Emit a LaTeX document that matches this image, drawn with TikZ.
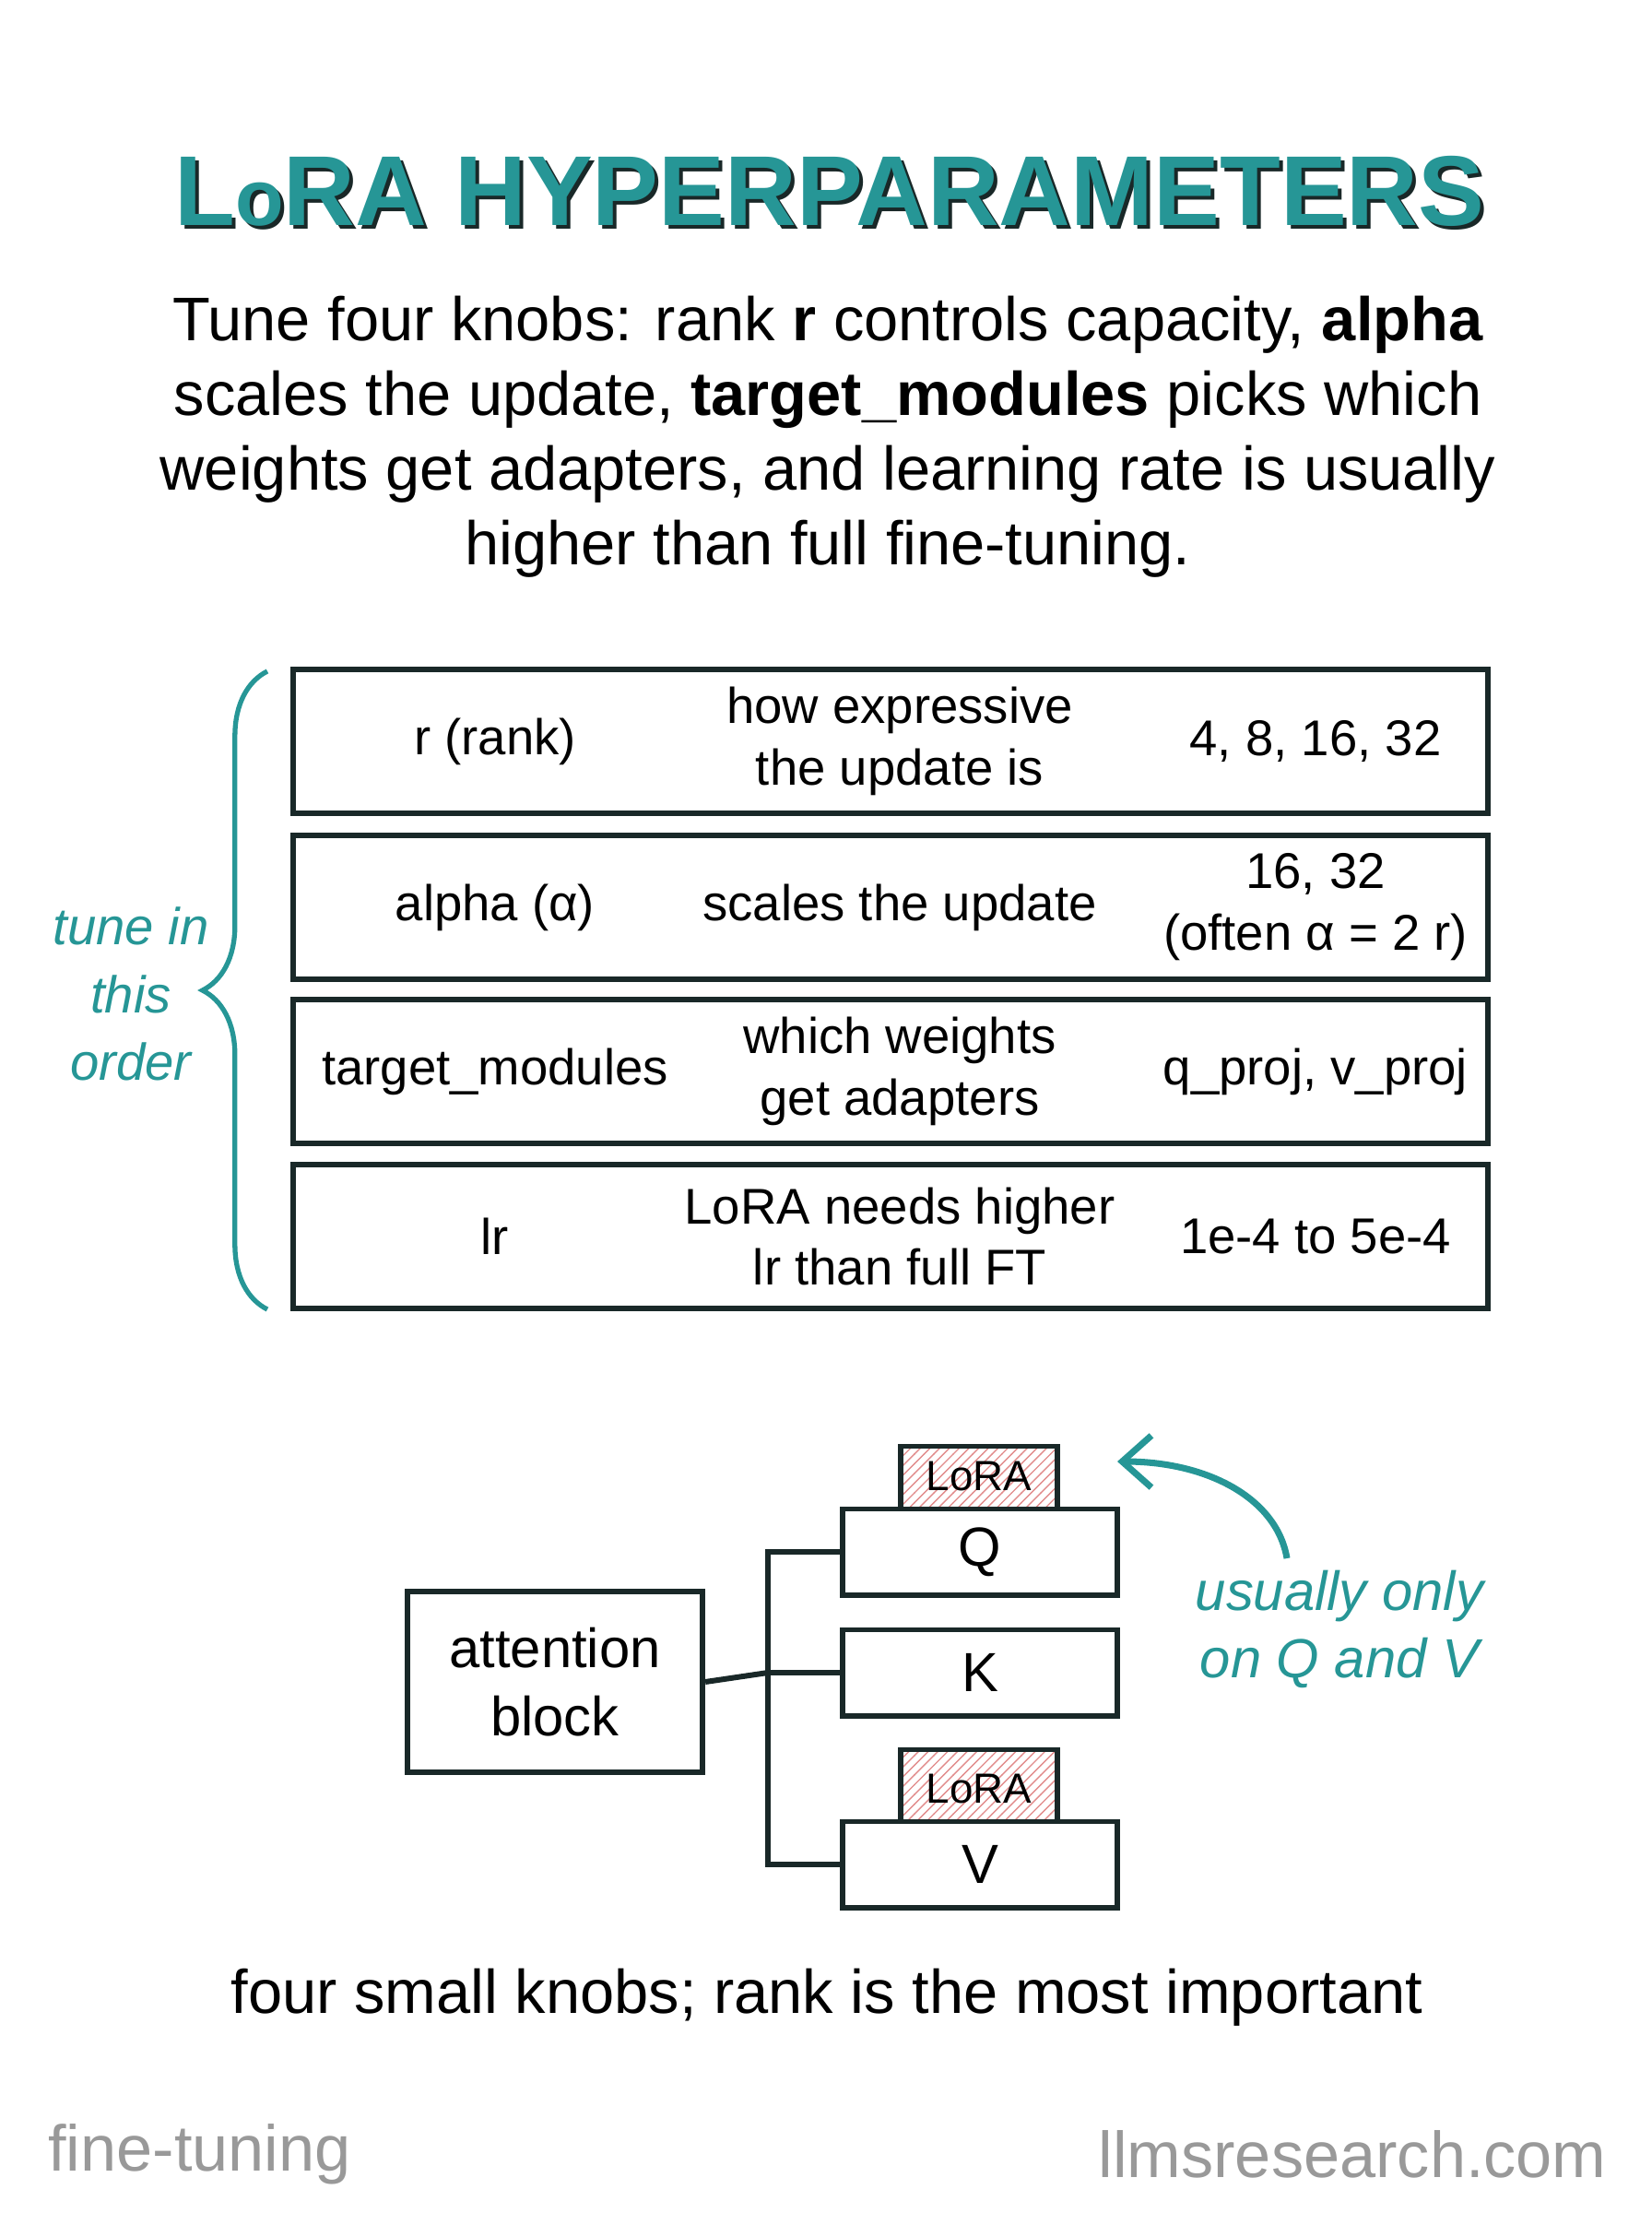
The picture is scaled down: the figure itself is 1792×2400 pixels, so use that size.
\documentclass[tikz,border=0pt]{standalone}
\usepackage{fontspec}
\setmainfont{Liberation Sans}
\usepackage{tikz}
\usetikzlibrary{patterns,decorations.pathreplacing,arrows.meta}
\definecolor{tealInk}{RGB}{38,150,150}
\definecolor{darkInk}{RGB}{25,40,40}
\definecolor{loraPink}{RGB}{252,232,232}
\definecolor{hatchRed}{RGB}{225,140,140}
\tikzset{
  rowbox/.style={draw=darkInk,line width=1.7pt,minimum width=12.95cm,minimum height=1.55cm},
  qkvbox/.style={draw=darkInk,line width=1.7pt,fill=white,minimum width=2.98cm,minimum height=0.93cm,font=\fontsize{17}{20}\selectfont},
  lorabox/.style={draw=darkInk,line width=1.7pt,fill=loraPink,minimum width=1.7cm,minimum height=0.85cm},
  cell/.style={align=center,font=\fontsize{15.5}{19}\selectfont},
  wire/.style={draw=darkInk,line width=1.7pt}
}
\begin{document}
\begin{tikzpicture}[x=0.01cm,y=-0.01cm]
\useasboundingbox (0,0) rectangle (1792,2400);
% title and intro
\node[text=darkInk] (title shadow) at (904,211) {\resizebox{14.2cm}{!}{\bfseries L\scalebox{0.8}{o}RA HYPERPARAMETERS}};
\node[text=tealInk] (title) at (900,207) {\resizebox{14.2cm}{!}{\bfseries L\scalebox{0.8}{o}RA HYPERPARAMETERS}};
\node[align=center,font=\fontsize{19}{23}\selectfont] (intro) at (898,474) {Tune four knobs: rank \textbf{r} controls capacity, \textbf{alpha}\\
scales the update, \textbf{target\_modules} picks which\\
weights get adapters, and learning rate is usually\\
higher than full fine-tuning.};
% table of knobs
\foreach \n/\y/\a/\b/\c in {1/804/{r (rank)}/{how expressive\\the update is}/{4, 8, 16, 32},
    2/984/{alpha (α)}/{scales the update}/{16, 32\\(often α = 2 r)},
    3/1162/{target\_modules}/{which weights\\get adapters}/{q\_proj, v\_proj},
    4/1341/{lr}/{LoRA needs higher\\lr than full FT}/{1e-4 to 5e-4}} {
  \node[rowbox] (row\n) at (966,\y) {};
  \node[cell] (name\n) at (537,\y) {\a};
  \node[cell] (role\n) at (976,\y) {\b};
  \node[cell] (range\n) at (1427,\y) {\c};
}
\draw[tealInk,line width=1.5pt,decorate,decoration={brace,amplitude=20pt}] (290,1420) -- (290,728);
\node[text=tealInk,align=center,font=\fontsize{16}{21}\itshape] (order) at (142,1078) {tune in\\this\\order};
% attention block
\node[draw=darkInk,line width=1.7pt,minimum width=3.2cm,minimum height=1.96cm,align=center,font=\fontsize{17}{21}\selectfont] (attn) at (602,1824) {attention\\block};
\node[lorabox,pattern=north east lines,pattern color=hatchRed] (loraQ) at (1062,1611) {};
\node[font=\fontsize{13}{15}\selectfont,yshift=0.1cm] at (loraQ) {LoRA};
\node[qkvbox] (Q) at (1063,1683) {Q};
\node[qkvbox] (K) at (1063,1814) {K};
\node[lorabox,pattern=north east lines,pattern color=hatchRed] (loraV) at (1062,1940) {};
\node[font=\fontsize{13}{15}\selectfont] at (loraV) {LoRA};
\node[qkvbox] (V) at (1063,2022) {V};
\coordinate (split) at (833,1814);
\draw[wire] (attn.east) -- (split);
\draw[wire] (Q.west) -| (split) |- (V.west);
\draw[wire] (split) -- (K.west);
\node[text=tealInk,align=center,font=\fontsize{17}{21}\itshape] (note) at (1453,1767) {usually only\\on Q and V};
\coordinate (note top) at (1396,1690);
\coordinate (arrow tip) at (1212,1585);
\draw[tealInk,line width=2pt,-{Straight Barb[length=9pt,width=16pt]}] (note top) .. controls (1385,1625) and (1310,1585) .. (arrow tip);
% footer
\node[font=\fontsize{19}{23}\selectfont] (caption) at (897,2166) {four small knobs; rank is the most important};
\node[anchor=west,text=black!40,font=\fontsize{20}{24}\selectfont] (tag) at (40,2336) {fine-tuning};
\node[anchor=east,text=black!40,font=\fontsize{20}{24}\selectfont] (site) at (1755,2336) {llmsresearch.com};
\end{tikzpicture}
\end{document}
